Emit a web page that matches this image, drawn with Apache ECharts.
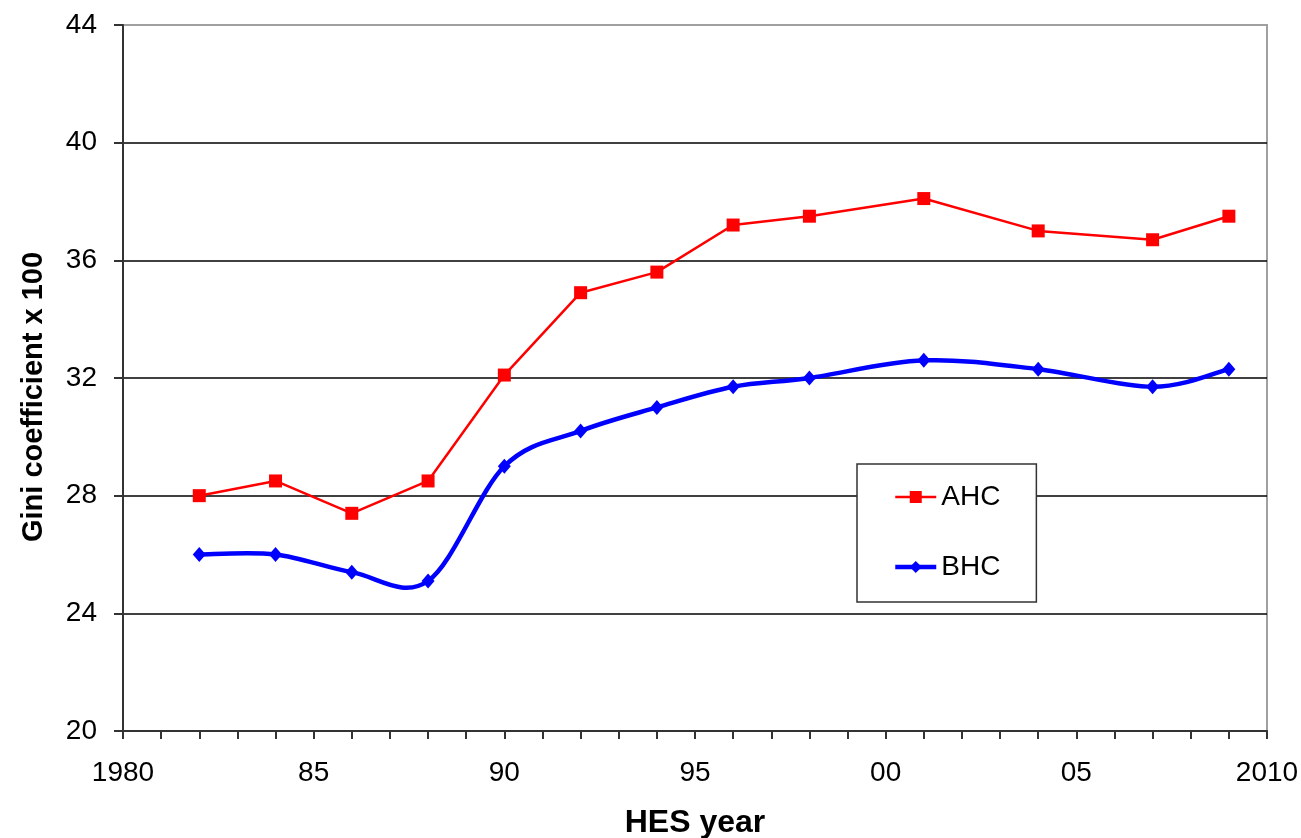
<!DOCTYPE html>
<html>
<head>
<meta charset="utf-8">
<script src="https://cdn.jsdelivr.net/npm/echarts@6/dist/echarts.min.js"></script>
<style>
html,body{margin:0;padding:0;background:#fff;}
#chart{width:1301px;height:838px;}
</style>
</head>
<body>
<div id="chart"></div>
<script>
const years = [1982, 1984, 1986, 1988, 1990, 1992, 1994, 1996, 1998, 2001, 2004, 2007, 2009];
const ahc = [28.0, 28.5, 27.4, 28.5, 32.1, 34.9, 35.6, 37.2, 37.5, 38.1, 37.0, 36.7, 37.5];
const bhc = [26.0, 26.0, 25.4, 25.1, 29.0, 30.2, 31.0, 31.7, 32.0, 32.6, 32.3, 31.7, 32.3];
const xTickLabels = ['1980', '85', '90', '95', '00', '05', '2010'];
const yTickValues = [20, 24, 28, 32, 36, 40, 44];

const FONT = '"Liberation Sans", Arial, sans-serif';
const chart = echarts.init(document.getElementById('chart'));

// Excel-style smoothed line (Catmull-Rom Bezier) through the BHC points, using the chart's scales
function renderSmooth(params, api) {
  if (params.dataIndex !== 0) return null;
  const pts = years.map((y, i) => api.coord([y, bhc[i]]));
  const n = pts.length;
  let d = 'M' + pts[0][0] + ' ' + pts[0][1];
  for (let i = 0; i < n - 1; i++) {
    const p0 = pts[Math.max(i - 1, 0)];
    const p1 = pts[i];
    const p2 = pts[i + 1];
    const p3 = pts[Math.min(i + 2, n - 1)];
    const c1x = p1[0] + (p2[0] - p0[0]) / 6;
    const c1y = p1[1] + (p2[1] - p0[1]) / 6;
    const c2x = p2[0] - (p3[0] - p1[0]) / 6;
    const c2y = p2[1] - (p3[1] - p1[1]) / 6;
    d += ' C' + c1x + ' ' + c1y + ' ' + c2x + ' ' + c2y + ' ' + p2[0] + ' ' + p2[1];
  }
  return {
    type: 'path',
    shape: { pathData: d },
    style: { fill: null, stroke: '#0000ff', lineWidth: 4.5, lineJoin: 'round', lineCap: 'round' }
  };
}

chart.setOption({
  animation: false,
  backgroundColor: '#fff',
  grid: {
    left: 123, right: 34, top: 25, bottom: 107,
    containLabel: false,
    outerBoundsMode: 'none',
    show: true, borderColor: '#a0a0a0', borderWidth: 2, backgroundColor: 'transparent'
  },
  legend: {
    orient: 'vertical',
    left: 857, top: 464,
    padding: [18, 36, 20, 36],
    itemGap: 40,
    itemWidth: 41, itemHeight: 15,
    backgroundColor: '#fff',
    borderColor: '#333', borderWidth: 1.5,
    textStyle: { fontFamily: FONT, fontSize: 28, color: '#000', lineHeight: 30 },
    data: [
      { name: 'AHC', lineStyle: { color: '#ff0000', width: 2.5, opacity: 1 } },
      { name: 'BHC', lineStyle: { color: '#0000ff', width: 4.5, opacity: 1 } }
    ]
  },
  xAxis: {
    type: 'value',
    min: 1980, max: 2010, interval: 5,
    name: 'HES year',
    nameLocation: 'middle',
    nameGap: 76,
    nameTextStyle: { fontFamily: FONT, fontSize: 32, fontWeight: 'bold', color: '#000' },
    axisLine: { lineStyle: { color: '#333', width: 2 } },
    axisTick: { show: true, inside: false, length: 8, lineStyle: { color: '#333', width: 2 } },
    minorTick: { show: true, splitNumber: 5, length: 8, lineStyle: { color: '#333', width: 2 } },
    splitLine: { show: false },
    axisLabel: {
      fontFamily: FONT, fontSize: 28, color: '#000', margin: 28,
      formatter: function (v) { return xTickLabels[Math.round((v - 1980) / 5)]; }
    }
  },
  yAxis: {
    type: 'value',
    min: 20, max: 44, interval: 4,
    name: 'Gini coefficient x 100',
    nameLocation: 'middle',
    nameGap: 75,
    nameRotate: 90,
    nameTextStyle: { fontFamily: FONT, fontSize: 29, fontWeight: 'bold', color: '#000', padding: [0, 38, 0, 0] },
    axisLine: { show: true, lineStyle: { color: '#333', width: 2 } },
    axisTick: { show: true, inside: false, length: 9, lineStyle: { color: '#333', width: 2 } },
    splitLine: {
      show: true,
      lineStyle: {
        color: yTickValues.map(v => v === 44 ? '#a0a0a0' : '#000'),
        width: 1.5
      }
    },
    axisLabel: { fontFamily: FONT, fontSize: 28, color: '#000', margin: 26 }
  },
  series: [
    {
      name: 'AHC',
      type: 'line',
      data: years.map((y, i) => [y, ahc[i]]),
      color: '#ff0000',
      lineStyle: { color: '#ff0000', width: 2.5 },
      itemStyle: { color: '#ff0000' },
      symbol: 'rect',
      symbolSize: 13,
      smooth: false,
      z: 3
    },
    {
      name: 'BHC curve',
      type: 'custom',
      data: years.map((y, i) => [y, bhc[i]]),
      encode: { x: 0, y: 1 },
      renderItem: renderSmooth,
      silent: true,
      z: 3
    },
    {
      name: 'BHC',
      type: 'line',
      data: years.map((y, i) => [y, bhc[i]]),
      color: '#0000ff',
      lineStyle: { color: '#0000ff', width: 4.5, opacity: 0 },
      itemStyle: { color: '#0000ff' },
      symbol: 'diamond',
      symbolSize: [13, 15],
      z: 4
    }
  ]
});
</script>
</body>
</html>
